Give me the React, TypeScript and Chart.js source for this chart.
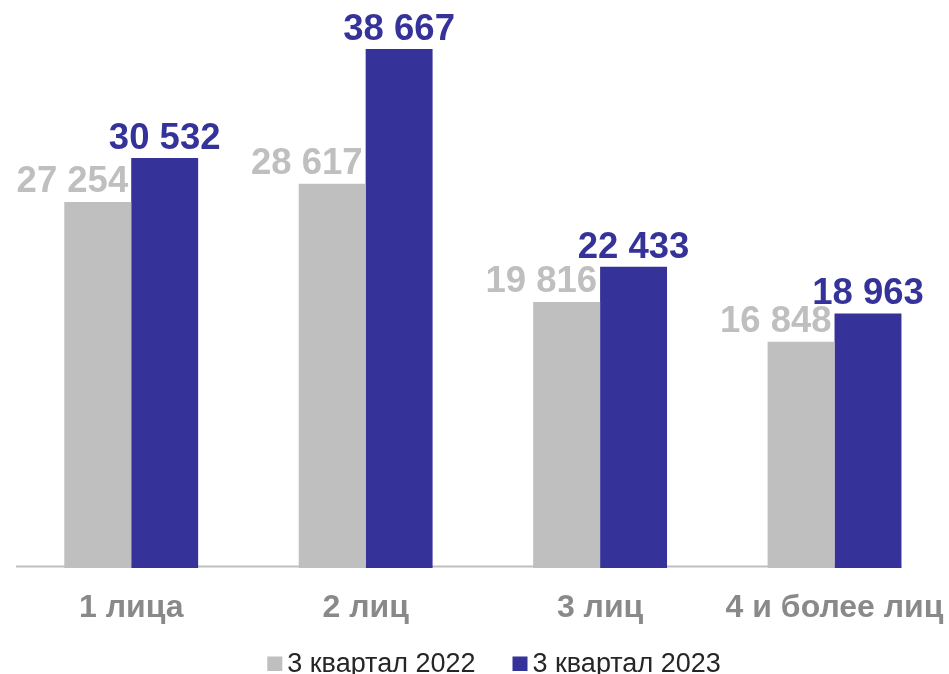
import React, { useEffect, useRef } from "react";
import { Chart, registerables } from "chart.js";

Chart.register(...registerables);

const categories = ["1 лица", "2 лиц", "3 лиц", "4 и более лиц"];
const seriesNames = ["3 квартал 2022", "3 квартал 2023"];
const values2022 = [27254, 28617, 19816, 16848];
const values2023 = [30532, 38667, 22433, 18963];
const yMax = 40000;

const GRAY = "#BFBFBF";
const BLUE = "#35339A";
const FONT = "'Liberation Sans', Arial, sans-serif";

const fmt = (v: number) => String(v).replace(/\B(?=(\d{3})+(?!\d))/g, " ");

const labelsPlugin = {
  id: "valueLabels",
  beforeDatasetsDraw(chart: any) {
    const ctx = chart.ctx;
    const y0 = chart.scales.y.getPixelForValue(0);
    const meta = chart.getDatasetMeta(chart.data.datasets.length - 1);
    const last = meta.data[meta.data.length - 1];
    ctx.save();
    ctx.strokeStyle = GRAY;
    ctx.lineWidth = 2;
    ctx.beginPath();
    ctx.moveTo(chart.chartArea.left + 2, y0 - 1.5);
    ctx.lineTo(last.x + last.width / 2, y0 - 1.5);
    ctx.stroke();
    ctx.restore();
  },
  afterDatasetsDraw(chart: any) {
    const ctx = chart.ctx;
    ctx.save();
    ctx.font = `bold 36.5px ${FONT}`;
    ctx.textBaseline = "alphabetic";
    chart.data.datasets.forEach((ds: any, di: number) => {
      const meta = chart.getDatasetMeta(di);
      meta.data.forEach((el: any, i: number) => {
        const v = ds.data[i];
        ctx.fillStyle = ds.backgroundColor;
        if (di === 0) {
          ctx.textAlign = "right";
          ctx.fillText(fmt(v), el.x + el.width / 2 - 3, el.y - 10);
        } else {
          ctx.textAlign = "center";
          ctx.fillText(fmt(v), el.x, el.y - 9);
        }
      });
    });
    ctx.restore();
  },
  afterDraw(chart: any) {
    const ctx = chart.ctx;
    ctx.save();
    ctx.font = `27px ${FONT}`;
    ctx.textBaseline = "alphabetic";
    ctx.textAlign = "left";
    const box = 15;
    const gapText = 5;
    const gapItems = 37;
    const widths = chart.data.datasets.map((ds: any) => box + gapText + ctx.measureText(ds.label).width);
    const total = widths.reduce((a: number, b: number) => a + b, 0) + gapItems * (widths.length - 1);
    let x = 494 - total / 2;
    const baseY = 671.5;
    chart.data.datasets.forEach((ds: any, i: number) => {
      ctx.fillStyle = ds.backgroundColor;
      ctx.fillRect(x, baseY - 15, box, 14.5);
      ctx.fillStyle = "#262626";
      ctx.fillText(ds.label, x + box + gapText, baseY);
      x += widths[i] + gapItems;
    });
    ctx.restore();
  },
};

export default function App() {
  const ref = useRef<HTMLCanvasElement | null>(null);
  useEffect(() => {
    if (!ref.current) return;
    const chart = new Chart(ref.current, {
      type: "bar",
      data: {
        labels: categories,
        datasets: [
          { label: seriesNames[0], data: values2022, backgroundColor: GRAY, borderWidth: 0 },
          { label: seriesNames[1], data: values2023, backgroundColor: BLUE, borderWidth: 0 },
        ],
      },
      options: {
        animation: false,
        responsive: false,
        devicePixelRatio: 1,
        layout: { padding: { left: 14, right: 8.25, top: 31, bottom: 33.6 } },
        datasets: { bar: { categoryPercentage: 0.571, barPercentage: 1 } },
        plugins: { legend: { display: false }, tooltip: { enabled: false }, title: { display: false } },
        scales: {
          x: {
            grid: { display: false },
            border: { display: false },
            ticks: {
              color: "#898989",
              font: { family: FONT, size: 32, weight: "bold" },
              padding: 13,
              maxRotation: 0,
              autoSkip: false,
            },
          },
          y: { display: false, min: 0, max: yMax },
        },
      },
      plugins: [labelsPlugin],
    });
    return () => chart.destroy();
  }, []);
  return (
    <div style={{ position: "fixed", left: 0, top: 0, width: 949, height: 674, overflow: "hidden", background: "#fff" }}>
      <canvas ref={ref} width={960} height={674} />
    </div>
  );
}
